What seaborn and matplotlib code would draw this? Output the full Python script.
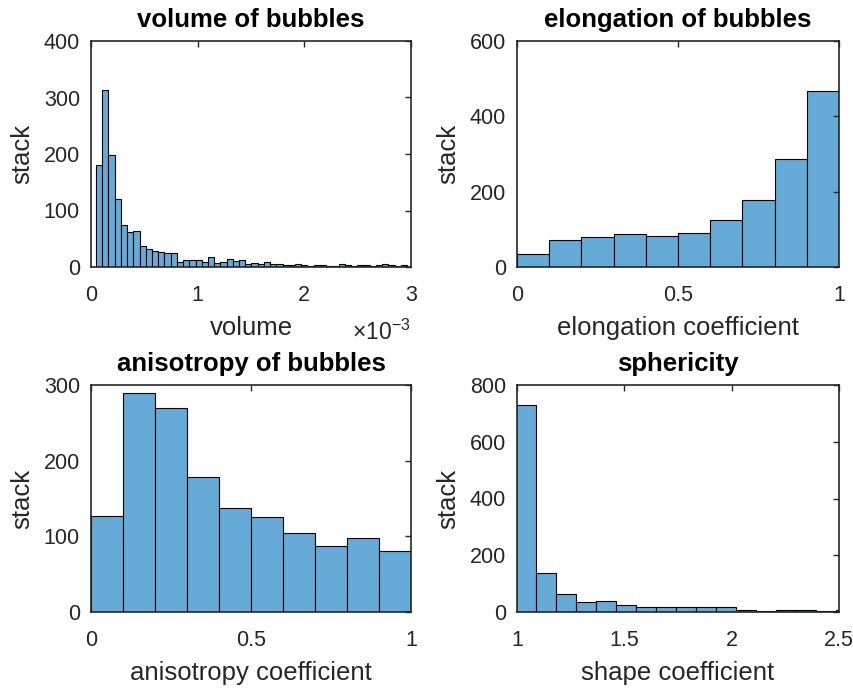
import numpy as np
import pandas as pd
import matplotlib
matplotlib.use("Agg")
import matplotlib.pyplot as plt
import seaborn as sns

# Bubble statistics: counts per histogram bin
volume_counts = [180, 313, 198, 121, 75, 62, 63, 38, 32, 28,
                 27, 25, 24, 8, 12, 13, 12, 8, 18, 7,
                 9, 14, 11, 12, 5, 7, 5, 9, 6, 6,
                 4, 4, 6, 3, 2, 3, 4, 2, 2, 6,
                 3, 2, 3, 4, 2, 4, 5, 3, 1, 4]
volume_bin_start = 4.7e-5
volume_bin_width = 5.83e-5

elongation_counts = [34, 71, 80, 88, 81, 89, 125, 177, 286, 467]
anisotropy_counts = [127, 290, 270, 178, 137, 125, 105, 87, 98, 80]
coef_bin_start = 0.0
coef_bin_width = 0.1

sphericity_counts = [729, 138, 64, 36, 40, 25, 17, 18, 18, 17,
                     16, 8, 3, 7, 7, 3, 8]
sphericity_bin_start = 0.994
sphericity_bin_width = 0.0932

titles = ["volume of bubbles", "elongation of bubbles",
          "anisotropy of bubbles", "sphericity"]
xlabels = ["volume", "elongation coefficient",
           "anisotropy coefficient", "shape coefficient"]
ylabel = "stack"

sns.set_style("white")
plt.rcParams["font.family"] = ["Liberation Sans", "DejaVu Sans"]
plt.rcParams["mathtext.fontset"] = "custom"
plt.rcParams["mathtext.rm"] = "Liberation Sans"

FACE = "#66AAD7"
INK = "#262626"
TICK_FS = 15.5
LABEL_FS = 18.5

W, H = 854, 690
fig = plt.figure(figsize=(W / 100, H / 100), dpi=100)
fig.patch.set_facecolor("white")


def px_axes(left, top, right, bottom):
    return fig.add_axes([left / W, 1 - bottom / H, (right - left) / W, (bottom - top) / H])


def draw_hist(ax, counts, start, width):
    counts = np.asarray(counts, dtype=float)
    edges = start + width * np.arange(len(counts) + 1)
    centers = 0.5 * (edges[:-1] + edges[1:])
    df = pd.DataFrame({"value": centers, "count": counts})
    sns.histplot(data=df, x="value", weights="count", bins=edges.tolist(), ax=ax,
                 color=FACE, alpha=1.0, edgecolor="black", linewidth=0.8)


def style(ax, title, xlabel):
    ax.set_title(title, fontsize=LABEL_FS, fontweight="bold", color="black", pad=10)
    ax.set_xlabel(xlabel, fontsize=LABEL_FS, color=INK, labelpad=7)
    ax.set_ylabel(ylabel, fontsize=LABEL_FS, color=INK, labelpad=7)
    ax.tick_params(direction="in", top=True, right=True, length=4, width=1,
                   colors=INK, labelsize=TICK_FS)
    ax.tick_params(axis="x", pad=13)
    ax.tick_params(axis="y", pad=8)
    for s in ax.spines.values():
        s.set_visible(True)
        s.set_color(INK)
        s.set_linewidth(1.2)
    ax.set_axisbelow(False)


ax1 = px_axes(91, 41, 411, 267)
ax2 = px_axes(517, 41, 839, 267)
ax3 = px_axes(91, 385, 411, 612)
ax4 = px_axes(517, 385, 839, 612)

draw_hist(ax1, volume_counts, volume_bin_start, volume_bin_width)
ax1.set_xlim(0, 3e-3)
ax1.set_ylim(0, 400)
ax1.set_xticks([0, 1e-3, 2e-3, 3e-3])
ax1.set_xticklabels(["0", "1", "2", "3"])
ax1.set_yticks([0, 100, 200, 300, 400])
style(ax1, titles[0], xlabels[0])
ax1.text(1.0, -0.323, r"$\times10^{-3}$", transform=ax1.transAxes,
         ha="right", va="baseline", fontsize=16.5, color=INK)

draw_hist(ax2, elongation_counts, coef_bin_start, coef_bin_width)
ax2.set_xlim(0, 1)
ax2.set_ylim(0, 600)
ax2.set_xticks([0, 0.5, 1])
ax2.set_xticklabels(["0", "0.5", "1"])
ax2.set_yticks([0, 200, 400, 600])
style(ax2, titles[1], xlabels[1])

draw_hist(ax3, anisotropy_counts, coef_bin_start, coef_bin_width)
ax3.set_xlim(0, 1)
ax3.set_ylim(0, 300)
ax3.set_xticks([0, 0.5, 1])
ax3.set_xticklabels(["0", "0.5", "1"])
ax3.set_yticks([0, 100, 200, 300])
style(ax3, titles[2], xlabels[2])

draw_hist(ax4, sphericity_counts, sphericity_bin_start, sphericity_bin_width)
ax4.set_xlim(1, 2.5)
ax4.set_ylim(0, 800)
ax4.set_xticks([1, 1.5, 2, 2.5])
ax4.set_xticklabels(["1", "1.5", "2", "2.5"])
ax4.set_yticks([0, 200, 400, 600, 800])
style(ax4, titles[3], xlabels[3])

fig.savefig("out.png", dpi=100, facecolor="white")
